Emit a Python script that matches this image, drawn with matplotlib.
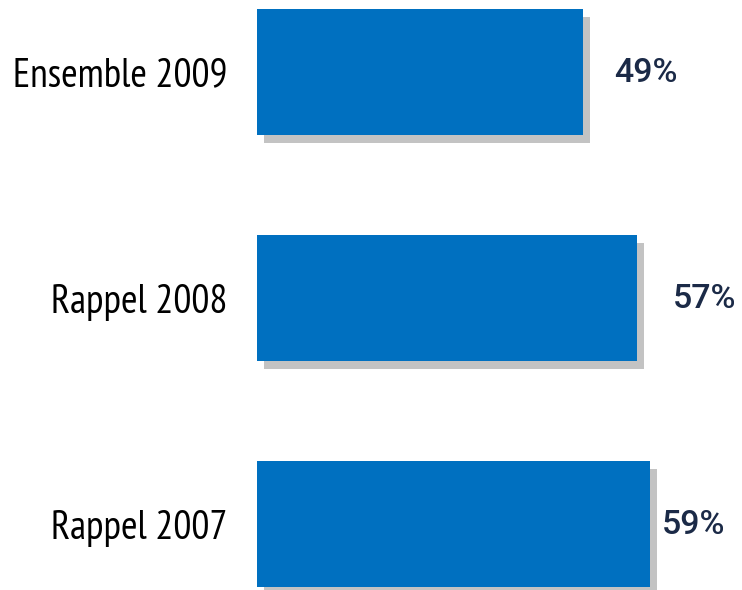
import matplotlib
matplotlib.use("Agg")
import matplotlib.pyplot as plt
import matplotlib.patheffects as pe

categories = ["Ensemble 2009", "Rappel 2008", "Rappel 2007"]
values = [49, 57, 59]
value_labels = ["49%", "57%", "59%"]
label_gaps = [31, 36, 12]  # px gap between bar end and value label, as in the original

fig = plt.figure(figsize=(7.42, 5.90), dpi=100)
ax = fig.add_axes([257 / 742, 0, 1 - 257 / 742, 1])

px_per_unit = 6.66
ax.set_xlim(0, (742 - 257) / px_per_unit)
ax.set_ylim(2.292, -0.319)

bars = ax.barh(range(len(values)), values, height=0.56, color="#0070C0")
for b in bars:
    b.set_path_effects([pe.SimplePatchShadow(offset=(5, -5.8), shadow_rgbFace="#C3C3C3", alpha=1),
                        pe.Normal()])

for i, (v, lab) in enumerate(zip(values, value_labels)):
    ax.annotate(lab, (v, i), xytext=(label_gaps[i] * 0.72, -1), textcoords="offset points",
                va="center", ha="left", fontsize=24.5, color="#1B2A47", fontweight=500,
                family=["Roboto", "DejaVu Sans"])

ax.set_yticks(range(len(categories)))
ax.set_yticklabels(categories, fontsize=28.8, family=["PT Sans Narrow", "DejaVu Sans"], color="black")
ax.tick_params(axis="y", length=0, pad=21)
ax.set_xticks([])
for s in ax.spines.values():
    s.set_visible(False)

fig.savefig("out.png", dpi=100)
